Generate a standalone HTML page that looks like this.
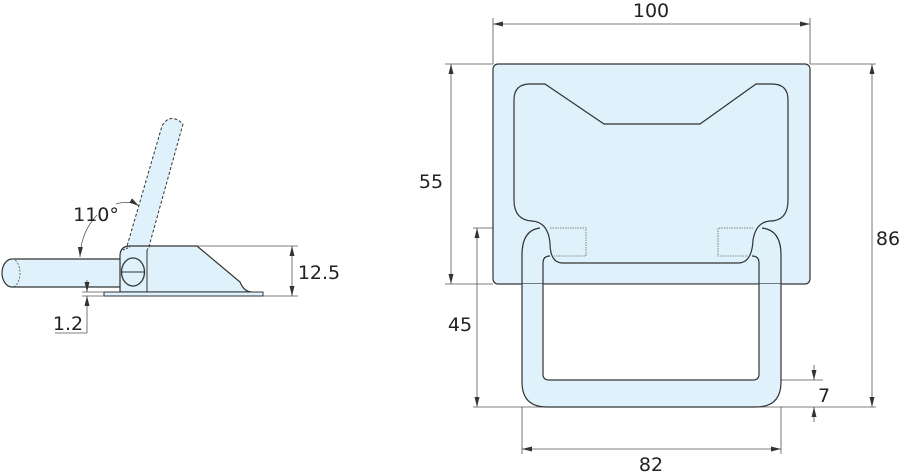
<!DOCTYPE html>
<html><head><meta charset="utf-8"><style>
html,body{margin:0;padding:0;background:#fff}
svg{display:block}
text{font-family:"DejaVu Sans","Liberation Sans",sans-serif;fill:#222}
</style></head><body>
<svg width="900" height="473" viewBox="0 0 900 473" xmlns="http://www.w3.org/2000/svg">
<defs>
<marker id="a" markerWidth="10" markerHeight="6" refX="10" refY="3" orient="auto-start-reverse" markerUnits="userSpaceOnUse"><path d="M0,0.5 L10,3 L0,5.5 Z" fill="#333"/></marker>
</defs>
<g fill="none" stroke="#555" stroke-width="0.8">
<!-- right dims -->
<line x1="493" y1="18" x2="493" y2="64"/><line x1="810" y1="18" x2="810" y2="64"/>
<line x1="493" y1="24" x2="810" y2="24" marker-start="url(#a)" marker-end="url(#a)"/>
<line x1="445" y1="64" x2="493" y2="64"/><line x1="810" y1="64" x2="876" y2="64"/>
<line x1="445" y1="284" x2="493" y2="284"/>
<line x1="451" y1="64" x2="451" y2="284" marker-start="url(#a)" marker-end="url(#a)"/>
<line x1="872" y1="64" x2="872" y2="407" marker-start="url(#a)" marker-end="url(#a)"/>
<line x1="473" y1="228" x2="545" y2="228"/>
<line x1="473" y1="407" x2="876" y2="407"/>
<line x1="477" y1="228" x2="477" y2="407" marker-start="url(#a)" marker-end="url(#a)"/>
<line x1="522" y1="407" x2="522" y2="454"/><line x1="781" y1="407" x2="781" y2="454"/>
<line x1="522" y1="449" x2="781" y2="449" marker-start="url(#a)" marker-end="url(#a)"/>
<line x1="764" y1="380" x2="823" y2="380"/>
<line x1="814" y1="365" x2="814" y2="380" marker-end="url(#a)"/>
<line x1="814" y1="422" x2="814" y2="407" marker-end="url(#a)"/>
</g>
<!-- plate -->
<rect x="493" y="64" width="317" height="220" rx="5" fill="#dff2fb" stroke="#333" stroke-width="1.2"/>
<!-- ring fill -->
<path fill-rule="evenodd" fill="#dff2fb" d="M522,284 L522,382 Q522,407 547,407 L756,407 Q781,407 781,382 L781,284 Z M543,284 L543,374 Q543,380 549,380 L753,380 Q759,380 759,374 L759,284 Z"/>
<path fill="#fff" d="M543,284.6 L543,374 Q543,380 549,380 L753,380 Q759,380 759,374 L759,284.6 Z"/>
<g fill="none" stroke="#333" stroke-width="1.2">
<path d="M540,228 Q522,230 522,255 L522,382 Q522,407 547,407 L756,407 Q781,407 781,382 L781,255 Q781,230 762,228"/>
<path d="M550,256 Q543,256 543,263 L543,374 Q543,380 549,380 L753,380 Q759,380 759,374 L759,263 Q759,256 752,256"/>
<path d="M530,84 L545,84 L604,124 L700,124 L756,84 L772,84 Q788,84 788,100 L788,200 Q788,221 770,221 Q756,222 753,240 Q752,263 738,263 L563,263 Q550,263 550,243 Q548,222 532,221 Q514,220 514,200 L514,100 Q514,84 530,84 Z"/>
</g>
<g fill="none" stroke="#666" stroke-width="0.8" stroke-dasharray="1.5,1">
<path d="M550,228 L586,228 L586,256 L554,256"/>
<path d="M753,228 L718,228 L718,256 L748,256"/>
</g>
<!-- left view -->
<path d="M12,259 L122,259 L122,287 L12,287 A10,14 0 0 1 12,259 Z" fill="#dff2fb" stroke="#333" stroke-width="1.2"/>
<path d="M12,259 A8,14 0 0 1 12,287" fill="none" stroke="#555" stroke-width="0.8" stroke-dasharray="2,1.5"/>
<path d="M123,260 L162,126 Q170,112 183,124 L148,250 Z" fill="#dff2fb" stroke="#333" stroke-width="1" stroke-dasharray="3,2"/>
<path d="M130,246 L197,246 L240,282 Q244,292 252,292 L147,292 L120,292 L120,256 Q120,246 130,246 Z" fill="#dff2fb" stroke="#333" stroke-width="1.2"/>
<path d="M147,250 L147,292" stroke="#333" stroke-width="1" fill="none"/>
<path d="M123,250 L130,247 M147,250 L150,246" stroke="#333" stroke-width="1" fill="none" stroke-dasharray="2,1.5"/>
<rect x="104" y="292" width="159" height="4" fill="#dff2fb" stroke="#333" stroke-width="1"/>
<ellipse cx="133" cy="272" rx="11.5" ry="14" fill="#dff2fb" stroke="#333" stroke-width="1.3"/>
<line x1="122" y1="272" x2="144" y2="272" stroke="#333" stroke-width="1"/>
<g fill="none" stroke="#555" stroke-width="0.8">
<path d="M80,257 Q81,232 97,215" marker-start="url(#a)"/>
<path d="M116,204 Q130,200 139,206" marker-end="url(#a)"/>
<line x1="197" y1="246" x2="298" y2="246"/><line x1="263" y1="296" x2="298" y2="296"/>
<line x1="292" y1="246" x2="292" y2="296" marker-start="url(#a)" marker-end="url(#a)"/>
<line x1="82" y1="292" x2="104" y2="292"/><line x1="82" y1="296" x2="104" y2="296"/>
<line x1="87" y1="280" x2="87" y2="292" marker-end="url(#a)"/>
<line x1="87" y1="333" x2="87" y2="296" marker-end="url(#a)"/>
<line x1="55" y1="333" x2="87" y2="333"/>
</g>
<g font-size="19">
<text x="651" y="17" text-anchor="middle">100</text>
<text x="431" y="188" text-anchor="middle">55</text>
<text x="888" y="245" text-anchor="middle">86</text>
<text x="460" y="331" text-anchor="middle">45</text>
<text x="651" y="471" text-anchor="middle">82</text>
<text x="824" y="402" text-anchor="middle">7</text>
<text x="319" y="279" text-anchor="middle">12.5</text>
<text x="68" y="330" text-anchor="middle">1.2</text>
<text x="96" y="221" text-anchor="middle">110°</text>
</g>
</svg>
</body></html>
